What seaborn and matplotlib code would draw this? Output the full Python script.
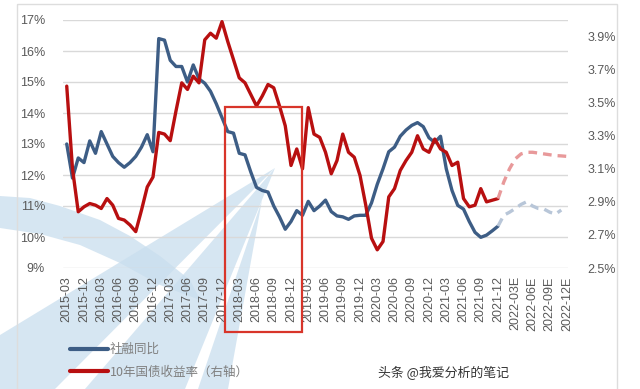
import numpy as np
import pandas as pd
import matplotlib
import matplotlib.pyplot as plt
import matplotlib.transforms as mtransforms
from matplotlib.patches import Rectangle, Polygon
from matplotlib.lines import Line2D
import seaborn as sns

matplotlib.use('Agg')

# ---------------------------------------------------------
# data (monthly)
# ---------------------------------------------------------
tick_labels = ["2015-03", "2015-12", "2016-03", "2016-06", "2016-09", "2016-12",
               "2017-03", "2017-06", "2017-09", "2017-12", "2018-03", "2018-06",
               "2018-09", "2018-12", "2019-03", "2019-06", "2019-09", "2019-12",
               "2020-03", "2020-06", "2020-09", "2020-12", "2021-03", "2021-06",
               "2021-09", "2021-12", "2022-03E", "2022-06E", "2022-09E", "2022-12E"]

# 社融同比 (left axis, %), 2015-03, 2015-10 ... 2021-12
tsf_actual = [13.0, 11.9, 12.55, 12.4, 13.1, 12.7, 13.4, 13.0, 12.6, 12.4,
              12.25, 12.4, 12.6, 12.9, 13.3, 12.75, 16.4, 16.35, 15.7, 15.5,
              15.5, 15.0, 15.55, 15.1, 14.96, 14.7, 14.3, 13.85, 13.4, 13.35,
              12.7, 12.65, 12.1, 11.6, 11.5, 11.45, 11.0, 10.65, 10.25, 10.5,
              10.85, 10.7, 11.15, 10.85, 11.0, 11.19, 10.82, 10.68, 10.65, 10.57,
              10.68, 10.7, 10.7, 11.1, 11.7, 12.2, 12.75, 12.9, 13.25, 13.45,
              13.6, 13.69, 13.56, 13.2, 13.05, 13.25, 12.2, 11.5, 11.02, 10.9,
              10.5, 10.15, 9.99, 10.06, 10.2, 10.35]
# forecast 2021-12 ... 2022-11E
tsf_forecast = [10.35, 10.7, 10.8, 10.92, 11.05, 11.14, 11.0, 10.92, 10.9, 10.8,
                10.74, 10.87]

# 10年国债收益率 (right axis, %)
yield_actual = [3.60, 3.10, 2.84, 2.87, 2.89, 2.88, 2.86, 2.92, 2.88, 2.80,
                2.79, 2.76, 2.72, 2.85, 2.99, 3.05, 3.32, 3.31, 3.27, 3.45,
                3.62, 3.58, 3.66, 3.62, 3.88, 3.92, 3.89, 3.99, 3.87, 3.76,
                3.65, 3.62, 3.55, 3.48, 3.54, 3.61, 3.59, 3.48, 3.36, 3.12,
                3.22, 3.10, 3.47, 3.31, 3.29, 3.20, 3.07, 3.15, 3.31, 3.20,
                3.17, 3.06, 2.88, 2.68, 2.61, 2.66, 2.93, 2.98, 3.09, 3.15,
                3.20, 3.30, 3.22, 3.20, 3.28, 3.22, 3.20, 3.12, 3.14, 2.92,
                2.87, 2.88, 2.98, 2.90, 2.91, 2.92]
# forecast 2021-12 ... 2022-12E
yield_forecast = [2.92, 3.02, 3.10, 3.16, 3.19, 3.20, 3.20, 3.195, 3.19, 3.185,
                  3.18, 3.178, 3.175]

# ---------------------------------------------------------
# frames
# ---------------------------------------------------------
n_act = len(tsf_actual)
df_act = pd.DataFrame({"pos": np.arange(n_act), "tsf": tsf_actual, "yld": yield_actual})
df_tsf_fc = pd.DataFrame({"pos": np.arange(len(tsf_forecast)) + n_act - 1, "tsf": tsf_forecast})
df_yld_fc = pd.DataFrame({"pos": np.arange(len(yield_forecast)) + n_act - 1, "yld": yield_forecast})

BLUE = '#3D5D85'
RED = '#B80F10'
BLUE_FC = '#B8C6D8'
RED_FC = '#E8999A'
GREY = '#595959'

sns.set_theme(style="white")
plt.rcParams['font.family'] = ['Liberation Sans', 'DejaVu Sans']
CJK = ['Noto Sans CJK SC', 'DejaVu Sans']

fig = plt.figure(figsize=(6.4, 3.89), dpi=100)
fig.patch.set_facecolor('white')

# background decoration (faint logo swoosh), pixel coordinates
bg = fig.add_axes([0, 0, 1, 1], zorder=-5)
bg.set_xlim(0, 640)
bg.set_ylim(389, 0)
bg.axis('off')
wm = '#C9DEEE'
shapes = [
    [(0, 196), (30, 198), (60, 206), (100, 220), (130, 236), (160, 256), (190, 280),
     (200, 300), (160, 285), (120, 263), (80, 245), (40, 234), (0, 228)],
    [(275, 168), (0, 335), (0, 389), (55, 389)],
    [(275, 168), (85, 389), (185, 389)],
    [(262, 200), (198, 389), (228, 389)],
]
for pts in shapes:
    bg.add_patch(Polygon(pts, closed=True, facecolor=wm, edgecolor='none', alpha=0.75))
bg.add_patch(Rectangle((17, 4), 600, 400, facecolor='none', edgecolor='#DDDDDD', linewidth=1))

ax = fig.add_axes([63 / 640, 1 - 268 / 389, 505 / 640, 248 / 389])
ax.patch.set_alpha(0)
ax2 = ax.twinx()

sns.lineplot(data=df_act, x="pos", y="tsf", ax=ax, color=BLUE, linewidth=2.4, zorder=3)
sns.lineplot(data=df_tsf_fc, x="pos", y="tsf", ax=ax, color=BLUE_FC, linewidth=2.4,
             linestyle=(0, (2.6, 1.8)), zorder=3)
sns.lineplot(data=df_act, x="pos", y="yld", ax=ax2, color=RED, linewidth=2.4, zorder=3)
sns.lineplot(data=df_yld_fc, x="pos", y="yld", ax=ax2, color=RED_FC, linewidth=2.4,
             linestyle=(0, (2.6, 1.8)), zorder=3)

# axes limits and ticks
ax.set_xlim(-0.65, 87.17)
ax.set_ylim(9, 17)
ax2.set_ylim(2.5, 4.0)
ax.set_yticks(np.arange(9, 18, 1))
ax.set_yticklabels([f"{v}%" for v in range(9, 18)])
ax2.set_yticks(np.arange(2.5, 3.95, 0.2))
ax2.set_yticklabels([f"{v:.1f}%" for v in np.arange(2.5, 3.95, 0.2)])
ax.set_xticks(np.arange(0, 3 * len(tick_labels), 3))
ax.set_xticklabels(tick_labels, rotation=90)

ax.grid(axis='y', color='#D9D9D9', linewidth=1)
ax.grid(axis='x', visible=False)
ax2.grid(False)
for a in (ax, ax2):
    for s in a.spines.values():
        s.set_visible(False)
    a.set_xlabel("")
    a.set_ylabel("")
ax.tick_params(axis='y', length=0, pad=13, labelsize=9, labelcolor=GREY)
ax.tick_params(axis='x', length=0, pad=6, labelsize=9, labelcolor=GREY)
ax2.tick_params(axis='y', length=0, pad=14, labelsize=9, labelcolor=GREY)

# highlight box 2018
trans = mtransforms.blended_transform_factory(ax.transData, ax.transAxes)
ax2.add_patch(Rectangle((27.5, -0.258), 13.4, 0.907, transform=trans, fill=False,
                        edgecolor='#D8352A', linewidth=1.6, clip_on=False, zorder=5))

# legend
handles = [Line2D([], [], color=BLUE, linewidth=3), Line2D([], [], color=RED, linewidth=3)]
leg = fig.legend(handles, ["社融同比", "10年国债收益率（右轴）"], loc='upper left',
                 bbox_to_anchor=(70 / 640, 1 - 343 / 389), frameon=False,
                 handlelength=3.0, handletextpad=0.2, borderpad=0, borderaxespad=0,
                 labelspacing=0.75, prop={'family': CJK, 'size': 9})
for t in leg.get_texts():
    t.set_color('#7F7F7F')

fig.text(378 / 640, 1 - 373 / 389, "头条 @我爱分析的笔记", family=CJK, fontsize=9.3,
         color='#333333', va='center', ha='left')

fig.savefig("out.png", dpi=100)
